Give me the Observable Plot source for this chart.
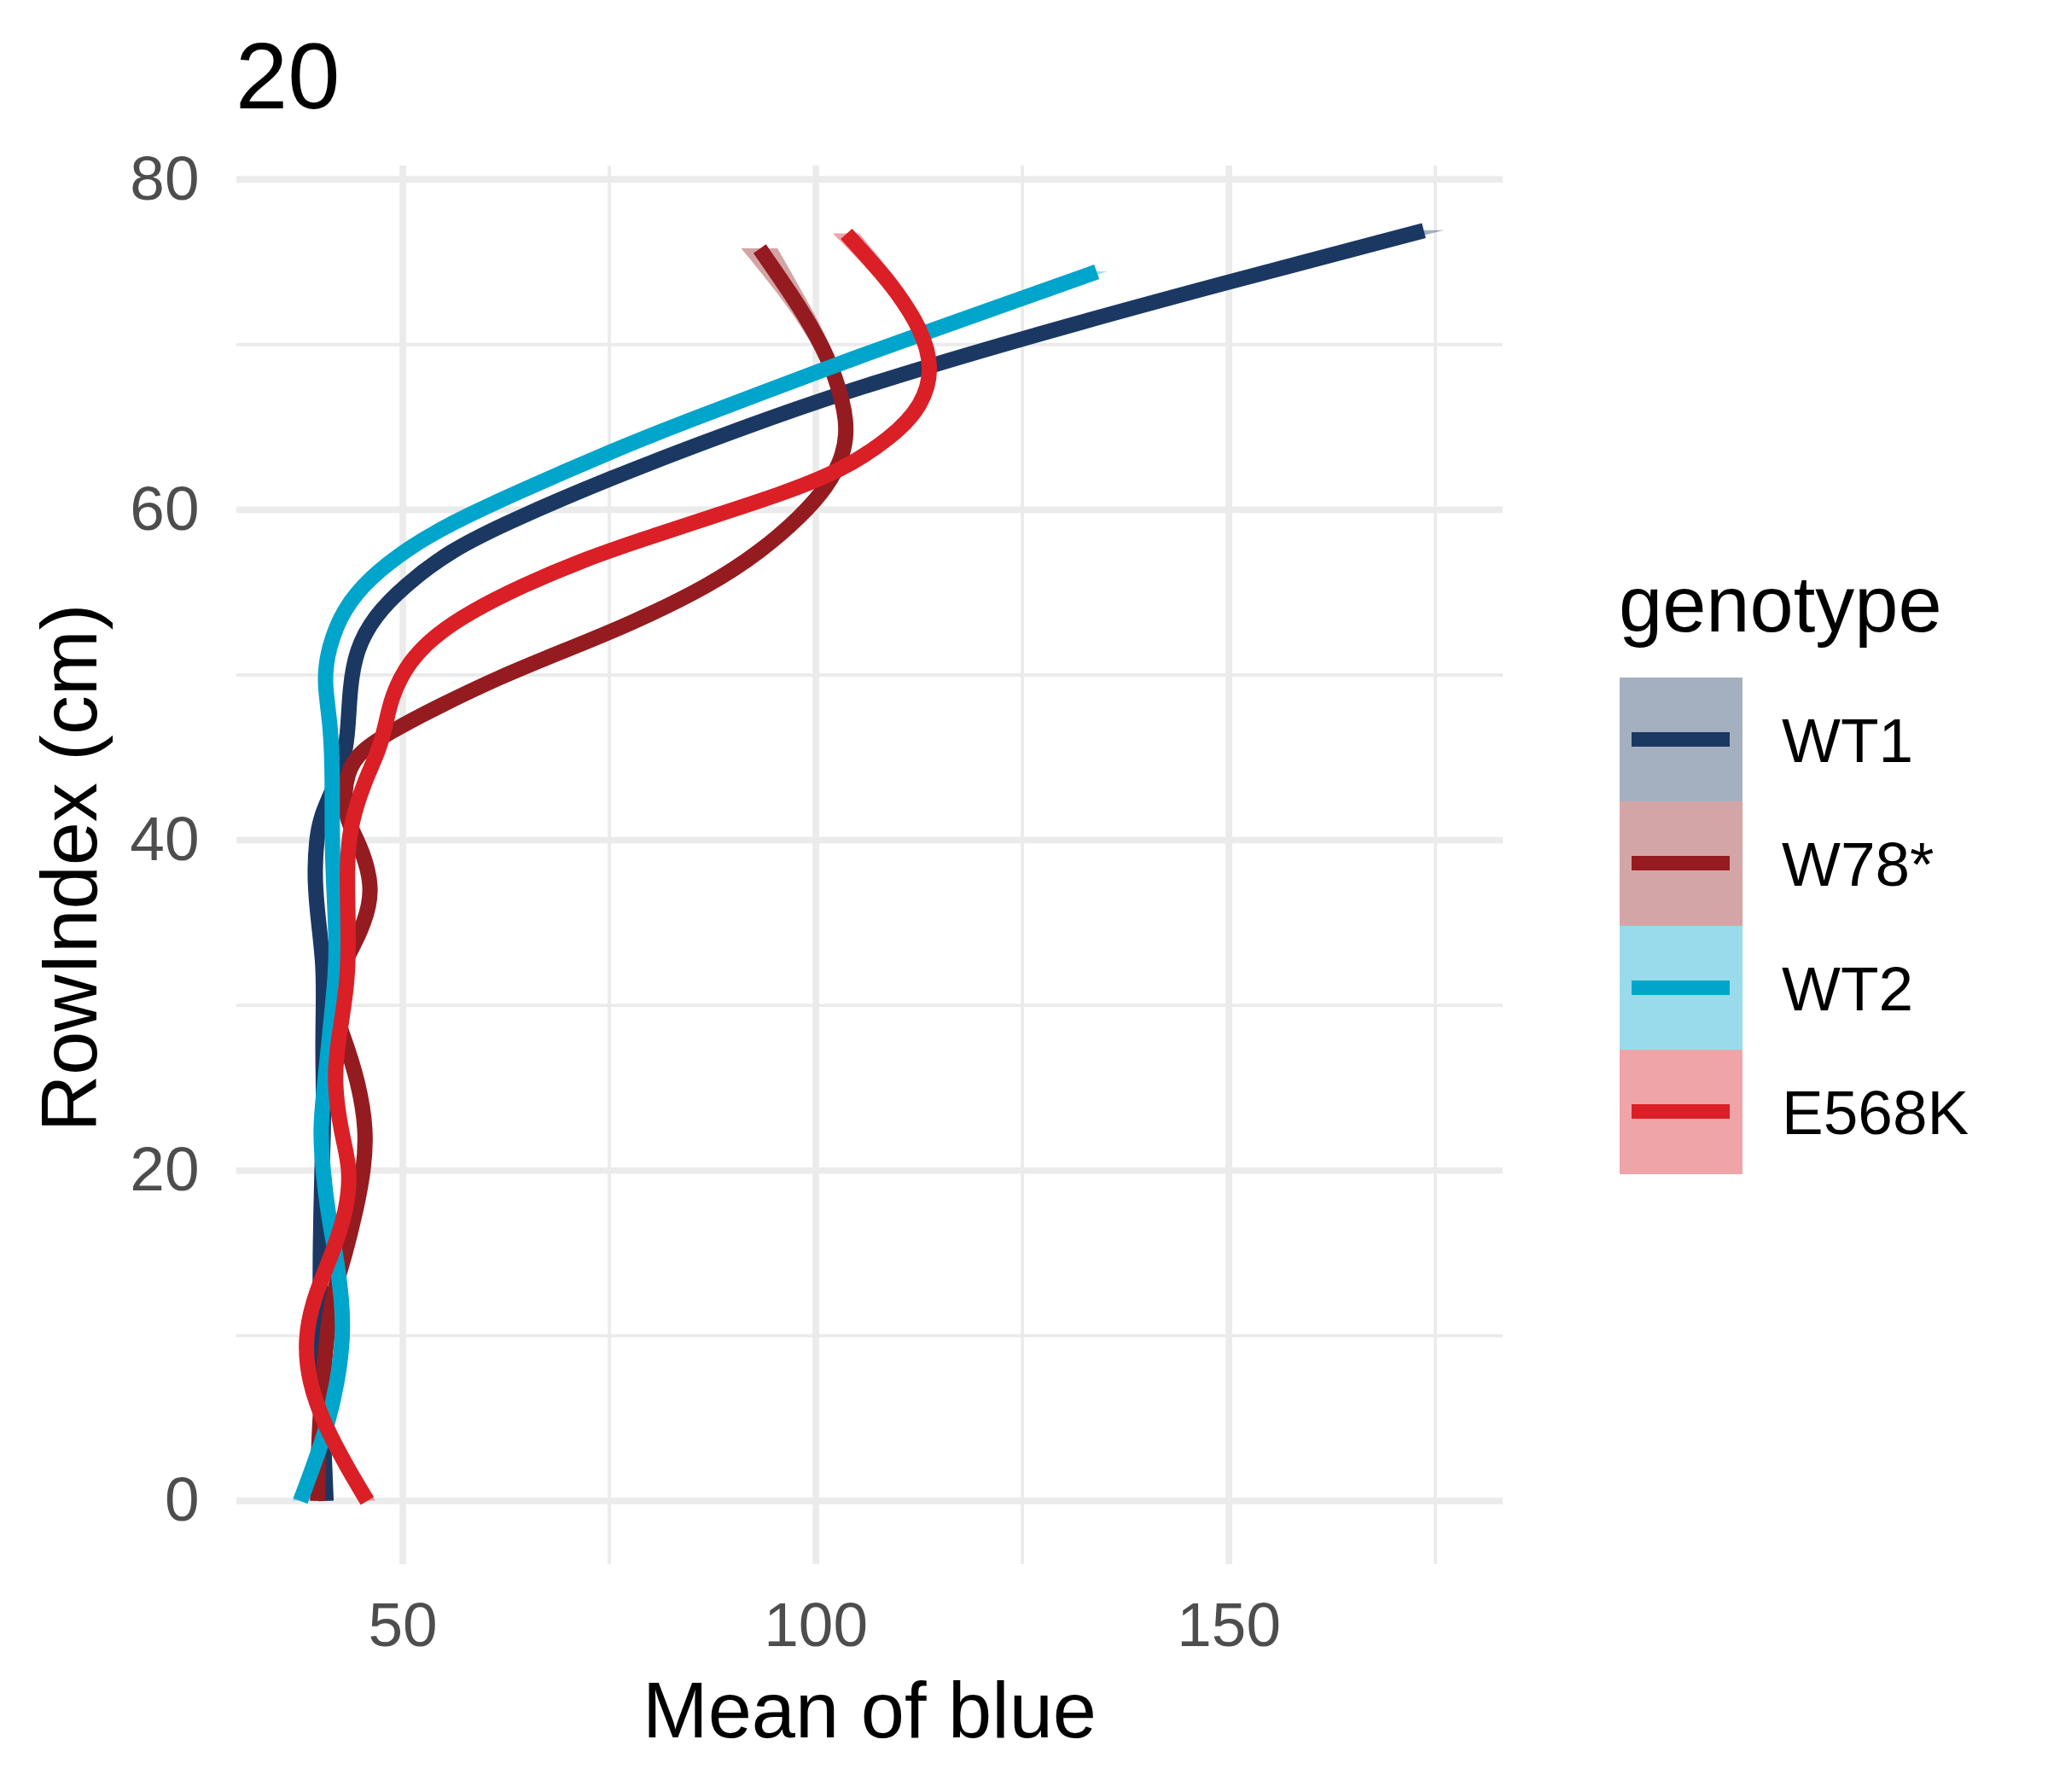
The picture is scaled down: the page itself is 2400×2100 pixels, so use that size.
<!DOCTYPE html>
<html>
<head>
<meta charset="utf-8">
<script src="https://cdn.jsdelivr.net/npm/d3@7"></script>
<script src="https://cdn.jsdelivr.net/npm/@observablehq/plot@0.6"></script>
<style>
  html, body { margin: 0; padding: 0; background: #fff; }
  #wrap { position: relative; width: 2400px; height: 2100px; font-family: 'Liberation Sans', Arial, sans-serif; overflow: hidden; }
  #wrap svg { display: block; position: absolute; left: 0; top: 0; }
  .txt { position: absolute; white-space: nowrap; line-height: 1; color: #000; }
</style>
</head>
<body>
<div id="wrap"></div>
<script>
// ---------------- data ----------------
const genotypes = ["WT1", "W78*", "WT2", "E568K"];
const lineColors = ["#1B3862", "#941B1F", "#00A5CB", "#DA1F26"];
const keyFills = ["#A4AFC0", "#D4A5A6", "#99DBEA", "#EFA4A7"];

const xMajor = [50, 100, 150];
const xMinor = [75, 125, 175];
const yMajor = [0, 20, 40, 60, 80];
const yMinor = [10, 30, 50, 70];

// WT1
const wt1Row  = [0, 2.5, 5, 7.5, 10, 12.5, 15, 17.5, 20, 22.5, 25, 27.5, 30, 32.5, 35, 37.5, 40, 41.5, 43, 45, 47, 49.2, 51.5, 53.6, 55.4, 57.5, 59.3, 61.9, 64.4, 67.0, 70.4, 73.8, 76.9];
const wt1Blue = [40.7, 40.5, 40.3, 40.1, 40.0, 40.0, 40.0, 40.1, 40.2, 40.4, 40.4, 40.3, 40.4, 40.4, 39.8, 39.3, 39.5, 40.1, 41.5, 43.0, 43.4, 43.6, 44.3, 46.6, 50.2, 55.6, 62.9, 75.0, 88.1, 102.4, 125.0, 150.0, 173.6];
const wt1Se   = [0.9, 0.7, 0.6, 0.6, 0.6, 0.6, 0.6, 0.6, 0.6, 0.6, 0.6, 0.6, 0.6, 0.6, 0.6, 0.6, 0.6, 0.6, 0.6, 0.6, 0.6, 0.6, 0.6, 0.6, 0.6, 0.6, 0.7, 0.7, 0.8, 0.9, 1.1, 1.6, 2.5];

// W78*
const w78Row  = [0, 3.8, 7.2, 10, 12.3, 14.9, 17.5, 20.1, 22.5, 25.4, 28.0, 29.7, 31.5, 33.2, 34.9, 37.1, 39.8, 41.3, 43.5, 45.2, 46.6, 48.0, 49.9, 51.5, 53.1, 55.4, 57.5, 59.6, 61.4, 63.3, 65.3, 68.1, 70.4, 73.0, 75.8];
const w78Blue = [39.7, 39.8, 40.3, 40.8, 41.4, 43.0, 44.3, 45.3, 45.6, 44.6, 42.9, 41.6, 41.7, 43.6, 45.3, 46.5, 44.8, 43.0, 42.9, 44.2, 48.6, 53.9, 61.8, 69.7, 77.6, 87.1, 93.4, 98.2, 101.4, 103.4, 103.9, 102.4, 100.3, 97.1, 93.2];
const w78Se   = [0.9, 0.7, 0.6, 0.6, 0.6, 0.6, 0.6, 0.6, 0.6, 0.6, 0.6, 0.6, 0.6, 0.6, 0.6, 0.6, 0.6, 0.6, 0.6, 0.6, 0.6, 0.6, 0.6, 0.6, 0.6, 0.6, 0.6, 0.6, 0.7, 0.7, 0.8, 0.9, 1.1, 1.5, 2.2];

// WT2
const wt2Row  = [0, 2, 4.6, 7.2, 10, 12.3, 14.9, 17.5, 20.1, 22.5, 24.6, 28.0, 31.5, 33.5, 36.6, 40.1, 43.5, 47.0, 49.6, 51.7, 54.0, 55.9, 57.7, 59.1, 60.9, 63.7, 65.3, 68.6, 70.4, 74.4];
const wt2Blue = [37.6, 39.1, 40.9, 42.1, 42.8, 42.6, 41.9, 40.9, 40.3, 40.0, 40.4, 41.1, 41.8, 42.0, 41.7, 41.4, 41.5, 41.3, 40.4, 41.0, 42.8, 46.0, 50.7, 55.5, 63.1, 76.0, 84.0, 101.5, 111.4, 134.0];
const wt2Se   = [0.9, 0.7, 0.6, 0.6, 0.6, 0.6, 0.6, 0.6, 0.6, 0.6, 0.6, 0.6, 0.6, 0.6, 0.6, 0.6, 0.6, 0.6, 0.6, 0.6, 0.6, 0.6, 0.6, 0.6, 0.6, 0.7, 0.7, 0.8, 0.9, 1.3];

// E568K
const e568Row  = [0, 2.0, 4.6, 7.2, 9.8, 12.3, 14.9, 17.5, 20.1, 22.1, 25.4, 28.0, 31.5, 34.9, 38.4, 40.9, 43.5, 45.3, 46.9, 48.7, 50.8, 52.4, 53.8, 55.4, 57.0, 58.2, 59.6, 60.9, 62.3, 64.4, 66.3, 68.6, 71.0, 73.2, 74.6, 76.7];
const e568Blue = [45.7, 43.3, 40.5, 38.6, 38.1, 39.2, 41.4, 43.2, 43.7, 42.6, 41.6, 42.2, 43.4, 43.4, 43.2, 43.6, 45.3, 47.0, 47.9, 48.6, 50.7, 53.9, 58.1, 64.4, 72.0, 79.0, 87.5, 95.5, 102.9, 109.3, 112.9, 114.2, 112.7, 109.8, 107.5, 103.7];
const e568Se   = [1.0, 0.7, 0.6, 0.6, 0.6, 0.6, 0.6, 0.6, 0.6, 0.6, 0.6, 0.6, 0.6, 0.6, 0.6, 0.6, 0.6, 0.6, 0.6, 0.6, 0.6, 0.6, 0.6, 0.6, 0.6, 0.6, 0.6, 0.6, 0.6, 0.7, 0.7, 0.8, 0.9, 1.1, 1.3, 1.6];

const seriesRow  = [wt1Row, w78Row, wt2Row, e568Row];
const seriesBlue = [wt1Blue, w78Blue, wt2Blue, e568Blue];
const seriesSe   = [wt1Se, w78Se, wt2Se, e568Se];

// ---------------- chart ----------------
const FONT = "'Liberation Sans', Arial, sans-serif";
const gridColor = "#EBEBEB";

const marks = [
  Plot.ruleY(yMinor, {stroke: gridColor, strokeWidth: 3.9}),
  Plot.ruleX(xMinor, {stroke: gridColor, strokeWidth: 3.9}),
  Plot.ruleY(yMajor, {stroke: gridColor, strokeWidth: 7.7}),
  Plot.ruleX(xMajor, {stroke: gridColor, strokeWidth: 7.7})
];

genotypes.forEach((g, i) => {
  const d = seriesRow[i].map((y, j) => ({
    genotype: g,
    y,
    x: seriesBlue[i][j],
    lo: seriesBlue[i][j] - seriesSe[i][j],
    hi: seriesBlue[i][j] + seriesSe[i][j]
  }));
  marks.push(Plot.areaX(d, {y: "y", x1: "lo", x2: "hi", fill: lineColors[i], fillOpacity: 0.4, curve: "basis"}));
  marks.push(Plot.line(d, {x: "x", y: "y", stroke: lineColors[i], strokeWidth: 18, strokeLinecap: "butt", strokeLinejoin: "round", curve: "basis"}));
});

marks.push(Plot.axisX(xMajor, {tickSize: 0, tickPadding: 44, fontSize: 73, fill: "#4D4D4D", label: null}));
marks.push(Plot.axisY(yMajor, {tickSize: 0, tickPadding: 44, fontSize: 73, fill: "#4D4D4D", label: null}));

const chart = Plot.plot({
  width: 2400,
  height: 2100,
  marginTop: 194,
  marginBottom: 267,
  marginLeft: 277,
  marginRight: 639,
  x: {domain: [29.9, 183.2], label: null},
  y: {domain: [-3.85, 80.81], label: null},
  style: {fontFamily: FONT, background: "white", overflow: "visible"},
  marks
});

const wrap = document.getElementById("wrap");
wrap.appendChild(chart);

// ---------------- text & legend ----------------
const BASE = 0.8465; // baseline offset (em) for line-height:1
function addText(str, fs, left, baseline) {
  const el = document.createElement("div");
  el.className = "txt";
  el.textContent = str;
  el.style.fontSize = fs + "px";
  el.style.left = left + "px";
  el.style.top = (baseline - BASE * fs) + "px";
  wrap.appendChild(el);
  return el;
}

// title
addText("20", 110, 276, 127);
// x-axis title (centered on panel)
const xt = addText("Mean of blue", 92, 1019, 2036);
xt.style.transform = "translateX(-50%)";
// y-axis title (rotated)
const yt = document.createElement("div");
yt.className = "txt";
yt.textContent = "RowIndex (cm)";
yt.style.fontSize = "92px";
yt.style.left = "81px";
yt.style.top = "1017px";
yt.style.transform = "translate(-50%, -50%) rotate(-90deg)";
wrap.appendChild(yt);

// legend
addText("genotype", 92, 1897, 740);
const keyLeft = 1898, keyTop = 793.6, keyW = 144, keyH = 145.5;
genotypes.forEach((g, i) => {
  const top = keyTop + i * keyH;
  const box = document.createElement("div");
  Object.assign(box.style, {position: "absolute", left: keyLeft + "px", top: top + "px", width: keyW + "px", height: keyH + "px", background: keyFills[i]});
  wrap.appendChild(box);
  const ln = document.createElement("div");
  Object.assign(ln.style, {position: "absolute", left: "1912px", top: (top + keyH / 2 - 8.5) + "px", width: "115px", height: "17px", background: lineColors[i]});
  wrap.appendChild(ln);
  const center = top + keyH / 2;
  addText(g, 73, 2088, center + 0.358 * 73);
});
</script>
</body>
</html>
